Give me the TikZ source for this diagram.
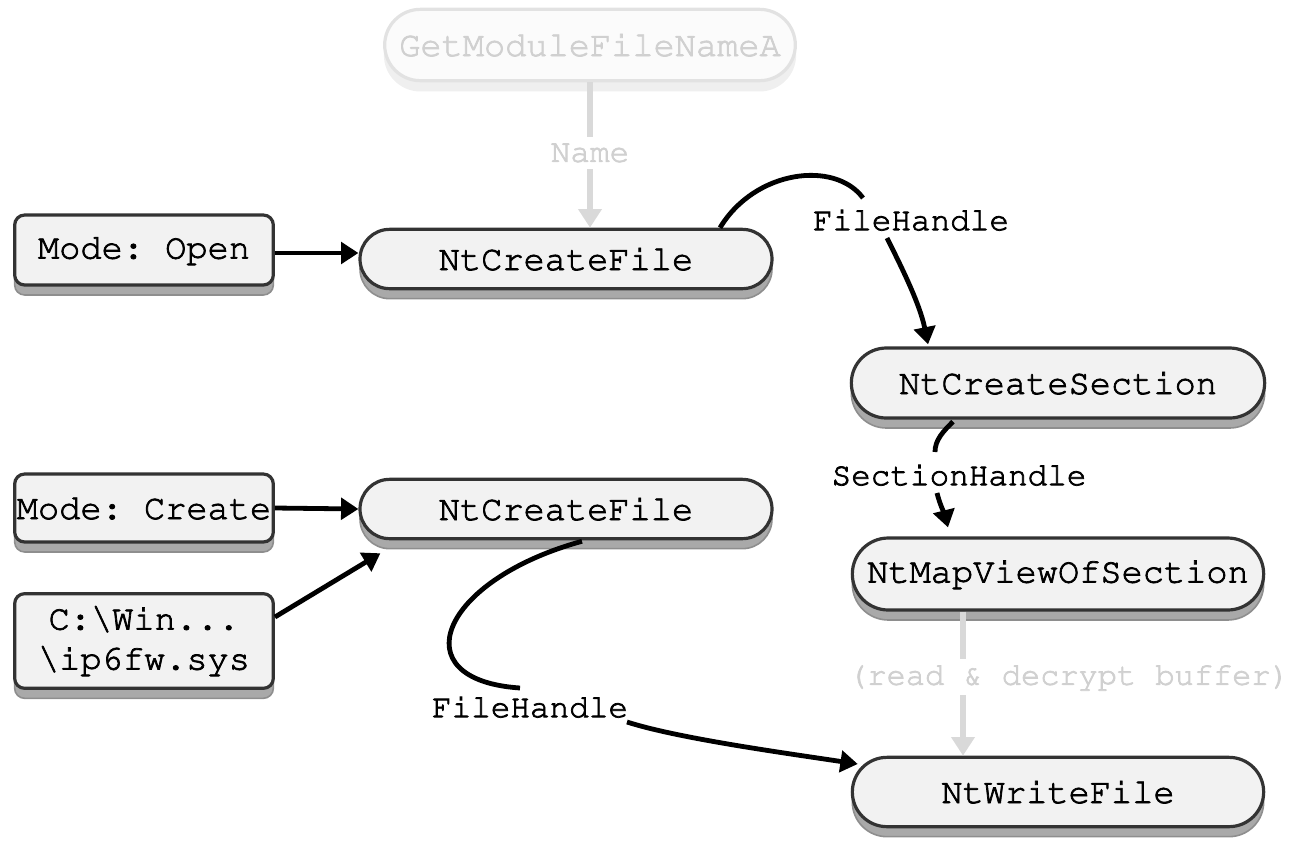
\documentclass[tikz,border=0pt]{standalone}
\usepackage[T1]{fontenc}
\renewcommand{\ttdefault}{pcr}
\frenchspacing
\usetikzlibrary{shadows,arrows.meta,calc}

% heavier strokes for the thin Courier outlines: fill + stroke text
\newcommand{\heavy}[1]{\special{pdf:literal direct 2 Tr 0.55 w}#1\special{pdf:literal direct 0 Tr}}

\definecolor{boxfill}{HTML}{F2F2F2}
\definecolor{boxedge}{HTML}{333333}
\definecolor{shadefill}{HTML}{A9A9A9}
\definecolor{shadeedge}{HTML}{8E8E8E}
\definecolor{ghosttext}{HTML}{D0D0D0}
\definecolor{ghostline}{HTML}{D9D9D9}
\definecolor{ghostedge}{HTML}{E2E2E2}
\definecolor{ghostfill}{HTML}{FBFBFB}
\definecolor{ghostshade}{HTML}{EFEFEF}

\tikzset{
  codefont/.style={font=\ttfamily\fontsize{26.5}{30}\selectfont},
  labelfont/.style={font=\ttfamily\fontsize{24.5}{28}\selectfont},
  callbox/.style={codefont, draw=boxedge, fill=boxfill, line width=2.4pt,
    inner sep=0pt, align=center,
    general shadow={shadow yshift=-7.5pt, fill=shadefill, draw=shadeedge, line width=1.2pt}},
  stadium/.style n args={3}{callbox, minimum width=#1, minimum height=#2, rounded corners=#3},
  argbox/.style 2 args={callbox, minimum width=#1, minimum height=#2, rounded corners=7.5pt},
  ghostbox/.style={codefont, text=ghosttext, draw=ghostedge, fill=ghostfill, line width=2.4pt,
    inner sep=0pt, minimum width=308pt, minimum height=53.5pt, rounded corners=26.75pt,
    general shadow={shadow yshift=-7.5pt, fill=ghostshade, draw=ghostshade, line width=1.2pt}},
  edgelabel/.style={labelfont, inner sep=0pt},
  ghostlabel/.style={labelfont, text=ghosttext, inner sep=0pt},
  flow/.style={line width=3.6pt, -{Triangle[length=13pt,width=16pt]}},
  ghostflow/.style={line width=4pt, draw=ghostline},
  ghostarrow/.style={ghostflow, -{Triangle[length=14pt,width=17pt]}},
}

\begin{document}
\begin{tikzpicture}[x=0.75pt, y=-0.75pt]
  \useasboundingbox (0,0) rectangle (1293,840);

  % API calls
  \node[ghostbox] (gm) at (590,45) {\heavy{GetModuleFileNameA}};
  \node[stadium={309pt}{44.5pt}{22.25pt}] (cf1) at (566,259) {\heavy{NtCreateFile}};
  \node[stadium={309pt}{44.5pt}{22.25pt}] (cf2) at (566,509) {\heavy{NtCreateFile}};
  \node[stadium={310pt}{52.5pt}{26.25pt}] (cs) at (1058,383) {\heavy{NtCreateSection}};
  \node[stadium={308.5pt}{54pt}{27pt}] (mv) at (1058,574) {\heavy{NtMapViewOfSection}};
  \node[stadium={308.5pt}{52pt}{26pt}] (wf) at (1058,792) {\heavy{NtWriteFile}};

  % arguments
  \node[argbox={194pt}{52.5pt}] (mo) at (144,250) {\heavy{Mode: Open}};
  \node[argbox={194pt}{51pt}] (mc) at (144,508) {\heavy{Mode: Create}};
  \node[argbox={194pt}{71pt}] (cw) at (144,641) {\heavy{C:\textbackslash Win...}\\\heavy{\textbackslash ip6fw.sys}};

  % edge labels
  \node[ghostlabel, inner sep=5pt] (nm) at (590,153) {\heavy{Name}};
  \node[edgelabel] (fh1) at (911,220) {\heavy{FileHandle}};
  \node[edgelabel] (sh) at (959,475) {\heavy{SectionHandle}};
  \node[edgelabel] (fh2) at (530,707) {\heavy{FileHandle}};
  \node[ghostlabel, font=\ttfamily\fontsize{24}{28}\selectfont, inner sep=4pt] (rd) at (1069,677) {\heavy{(read \& decrypt buffer)}};

  % faded data flow
  \draw[ghostflow] (gm.south) -- (nm.north);
  \draw[ghostarrow] (nm.south) -- (nm.south |- cf1.north);
  \coordinate (rdin) at ($(rd.north)+(-106,0)$);
  \coordinate (rdout) at ($(rd.south)+(-106,0)$);
  \draw[ghostflow] (rdin |- mv.south) -- (rdin);
  \draw[ghostarrow] (rdout) -- (rdout |- wf.north);

  % argument inputs
  \draw[flow] ($(mo.east)+(0,3)$) -- ($(cf1.west)+(0,-6)$);
  \draw[flow] (mc.east) -- (cf2.west);
  \draw[flow] ($(cw.east)+(0,-24)$) -- ($(cf2.south west)+(22,13)$);

  % handle flow
  \draw[line width=3.6pt] ($(cf1.north)+(154,0)$) .. controls +(35,-58) and +(-28,-38) .. ($(fh1)+(-48,-22)$);
  \draw[flow] ($(fh1)+(-24,18)$) .. controls +(15,30) and +(-8,-40) .. ($(cs.north)+(-130,-2)$);

  \draw[line width=3.6pt] ($(cs.south)+(-105,2)$) .. controls +(-10,10) and +(0,-12) .. ($(sh)+(-24,-23)$);
  \draw[flow] ($(sh)+(-22,18)$) .. controls +(3,12) and +(-3,-12) .. ($(mv.north)+(-110,-9)$);

  \draw[line width=3.6pt] ($(cf2.south)+(16,1)$) .. controls +(-142,39) and +(-120,-8) .. ($(fh2)+(-10,-19)$);
  \draw[flow] ($(fh2)+(97,15)$) .. controls +(50,16) and +(-80,-12) .. ($(wf.west)+(7,-28)$);
\end{tikzpicture}
\end{document}
